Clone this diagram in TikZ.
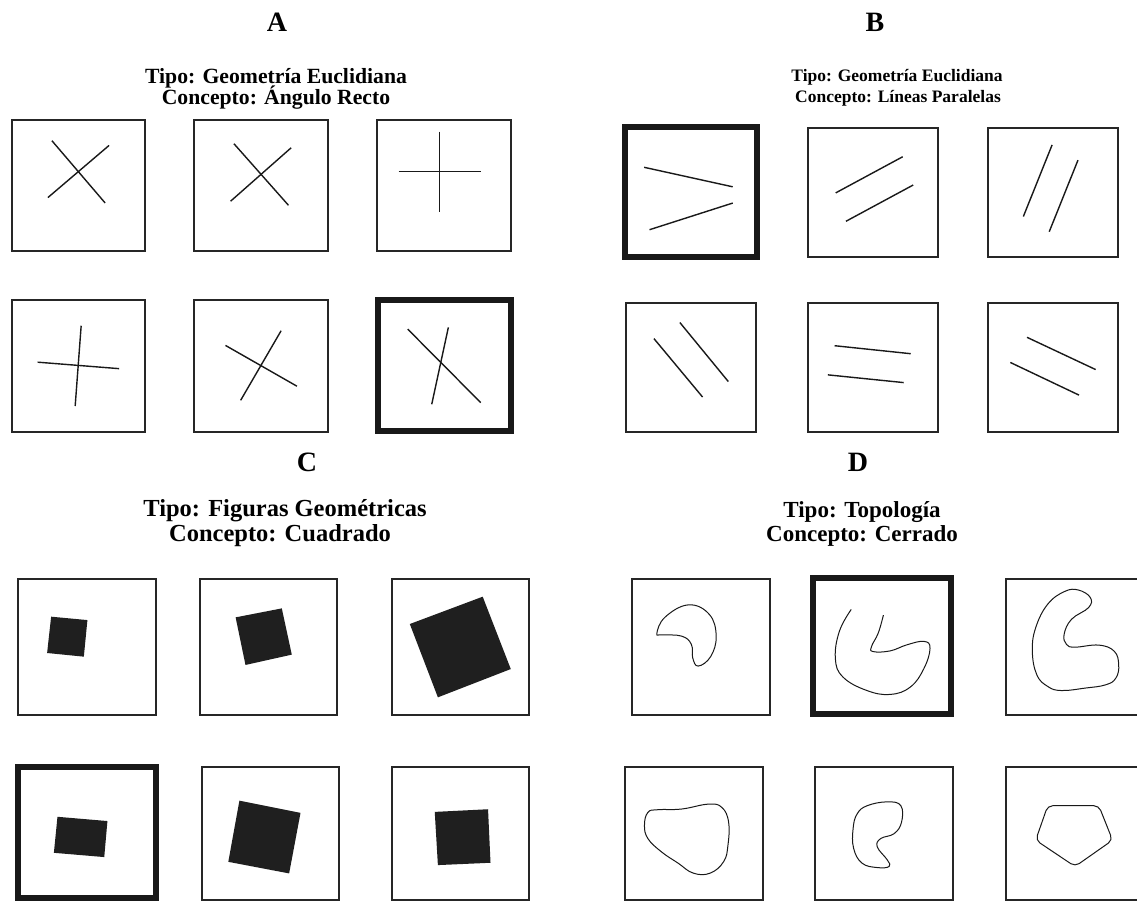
\documentclass[tikz,border=0pt]{standalone}
\usepackage{fontspec}
\setmainfont{Liberation Serif}
\begin{document}
\begin{tikzpicture}[x=1pt,y=-1pt,
  thinbox/.style={draw=black!85,line width=1.8pt},
  thickbox/.style={draw=black!90,line width=6pt},
  seg/.style={draw=black!90,line width=1.4pt},
  curve/.style={draw=black!90,line width=1pt},
  sq/.style={fill=black!88,draw=none},
  letter/.style={anchor=base,inner sep=0pt,font=\fontsize{28}{28}\selectfont\bfseries},
  titA/.style={anchor=base,inner sep=0pt,font=\fontsize{21.7}{22}\selectfont\bfseries},
  titB/.style={anchor=base,inner sep=0pt,font=\fontsize{17.5}{18}\selectfont\bfseries},
  titC/.style={anchor=base,inner sep=0pt,font=\fontsize{24.5}{25}\selectfont\bfseries},
  titD/.style={anchor=base,inner sep=0pt,font=\fontsize{23}{23}\selectfont\bfseries}]
\useasboundingbox (0,0) rectangle (1137,900);
\clip (0,0) rectangle (1137,900);
\fill[white] (0,0) rectangle (1137,900);

% ---------- titles ----------
\node[letter] (la) at (277,31) {A};
\node[titA] (ta1) at (276,83) {Tipo: Geometría Euclidiana};
\node[titA] (ta2) at (276,104) {Concepto: Ángulo Recto};
\node[letter] (lb) at (875,31) {B};
\node[titB] (tb1) at (897,81) {Tipo: Geometría Euclidiana};
\node[titB] (tb2) at (898,102) {Concepto: Líneas Paralelas};
\node[letter] (lc) at (307,471) {C};
\node[titC] (tc1) at (285,516) {Tipo: Figuras Geométricas};
\node[titC] (tc2) at (280,541) {Concepto: Cuadrado};
\node[letter] (ld) at (858,471) {D};
\node[titD] (td1) at (862,517) {Tipo: Topología};
\node[titD] (td2) at (862,541) {Concepto: Cerrado};

% ---------- A ----------
\begin{scope}[shift={(12,120)},x={(133pt,0pt)},y={(0pt,-131pt)}]
  \draw[thinbox] (0,0) rectangle (1,1);
  \draw[seg] (0.30,0.158) -- (0.70,0.633);
  \draw[seg] (0.27,0.592) -- (0.73,0.194);
\end{scope}
\begin{scope}[shift={(194,120)},x={(134pt,0pt)},y={(0pt,-131pt)}]
  \draw[thinbox] (0,0) rectangle (1,1);
  \draw[seg] (0.298,0.181) -- (0.705,0.651);
  \draw[seg] (0.273,0.62) -- (0.725,0.212);
\end{scope}
\begin{scope}[shift={(377,120)},x={(134pt,0pt)},y={(0pt,-131pt)}]
  \draw[thinbox] (0,0) rectangle (1,1);
  \draw[seg] (0.162,0.395) -- (0.776,0.395);
  \draw[seg] (0.468,0.089) -- (0.468,0.702);
\end{scope}
\begin{scope}[shift={(12,300)},x={(133pt,0pt)},y={(0pt,-132pt)}]
  \draw[thinbox] (0,0) rectangle (1,1);
  \draw[seg] (0.193,0.471) -- (0.805,0.52);
  \draw[seg] (0.52,0.195) -- (0.475,0.803);
\end{scope}
\begin{scope}[shift={(194,300)},x={(134pt,0pt)},y={(0pt,-132pt)}]
  \draw[thinbox] (0,0) rectangle (1,1);
  \draw[seg] (0.235,0.344) -- (0.768,0.653);
  \draw[seg] (0.65,0.233) -- (0.348,0.76);
\end{scope}
\begin{scope}[shift={(378,300)},x={(133pt,0pt)},y={(0pt,-131pt)}]
  \draw[thickbox] (0,0) rectangle (1,1);
  \draw[seg] (0.223,0.222) -- (0.772,0.783);
  \draw[seg] (0.529,0.209) -- (0.404,0.796);
\end{scope}

% ---------- B ----------
\begin{scope}[shift={(625,127)},x={(132pt,0pt)},y={(0pt,-130pt)}]
  \draw[thickbox] (0,0) rectangle (1,1);
  \draw[seg] (0.145,0.31) -- (0.816,0.46);
  \draw[seg] (0.186,0.79) -- (0.816,0.585);
\end{scope}
\begin{scope}[shift={(808,128)},x={(130pt,0pt)},y={(0pt,-129pt)}]
  \draw[thinbox] (0,0) rectangle (1,1);
  \draw[seg] (0.213,0.503) -- (0.728,0.223);
  \draw[seg] (0.292,0.723) -- (0.809,0.442);
\end{scope}
\begin{scope}[shift={(988,128)},x={(130pt,0pt)},y={(0pt,-129pt)}]
  \draw[thinbox] (0,0) rectangle (1,1);
  \draw[seg] (0.272,0.686) -- (0.493,0.131);
  \draw[seg] (0.471,0.804) -- (0.692,0.249);
\end{scope}
\begin{scope}[shift={(626,303)},x={(130pt,0pt)},y={(0pt,-129pt)}]
  \draw[thinbox] (0,0) rectangle (1,1);
  \draw[seg] (0.215,0.276) -- (0.589,0.729);
  \draw[seg] (0.414,0.151) -- (0.787,0.609);
\end{scope}
\begin{scope}[shift={(808,303)},x={(130pt,0pt)},y={(0pt,-129pt)}]
  \draw[thinbox] (0,0) rectangle (1,1);
  \draw[seg] (0.204,0.331) -- (0.790,0.393);
  \draw[seg] (0.153,0.557) -- (0.736,0.617);
\end{scope}
\begin{scope}[shift={(988,303)},x={(130pt,0pt)},y={(0pt,-129pt)}]
  \draw[thinbox] (0,0) rectangle (1,1);
  \draw[seg] (0.300,0.266) -- (0.828,0.516);
  \draw[seg] (0.172,0.461) -- (0.700,0.714);
\end{scope}

% ---------- C ----------
\begin{scope}[shift={(18,579)},x={(138pt,0pt)},y={(0pt,-136pt)}]
  \draw[thinbox] (0,0) rectangle (1,1);
  \fill[sq] (0.240,0.277) -- (0.503,0.302) -- (0.477,0.571) -- (0.211,0.544) -- cycle;
\end{scope}
\begin{scope}[shift={(200,579)},x={(137pt,0pt)},y={(0pt,-136pt)}]
  \draw[thinbox] (0,0) rectangle (1,1);
  \fill[sq] (0.260,0.282) -- (0.597,0.216) -- (0.670,0.556) -- (0.332,0.632) -- cycle;
\end{scope}
\begin{scope}[shift={(392,579)},x={(137pt,0pt)},y={(0pt,-136pt)}]
  \draw[thinbox] (0,0) rectangle (1,1);
  \fill[sq] (0.130,0.331) -- (0.662,0.130) -- (0.867,0.662) -- (0.335,0.870) -- cycle;
\end{scope}
\begin{scope}[shift={(18,767)},x={(138pt,0pt)},y={(0pt,-131pt)}]
  \draw[thickbox] (0,0) rectangle (1,1);
  \fill[sq] (0.286,0.38) -- (0.648,0.4125) -- (0.625,0.6875) -- (0.260,0.655) -- cycle;
\end{scope}
\begin{scope}[shift={(202,767)},x={(137pt,0pt)},y={(0pt,-133pt)}]
  \draw[thinbox] (0,0) rectangle (1,1);
  \fill[sq] (0.273,0.253) -- (0.719,0.345) -- (0.636,0.80) -- (0.192,0.713) -- cycle;
\end{scope}
\begin{scope}[shift={(392,767)},x={(137pt,0pt)},y={(0pt,-133pt)}]
  \draw[thinbox] (0,0) rectangle (1,1);
  \fill[sq] (0.312,0.3375) -- (0.701,0.3175) -- (0.719,0.72) -- (0.335,0.7375) -- cycle;
\end{scope}

% ---------- D ----------
\begin{scope}[shift={(632,579)},x={(138pt,0pt)},y={(0pt,-136pt)}]
  \draw[thinbox] (0,0) rectangle (1,1);
  \draw[curve] plot[smooth cycle,tension=0.7] coordinates {(0.18,0.40) (0.24,0.28) (0.41,0.19) (0.56,0.26) (0.61,0.42) (0.57,0.57) (0.48,0.64) (0.44,0.58) (0.43,0.48) (0.36,0.42) (0.22,0.41)};
\end{scope}
\begin{scope}[shift={(813,578)},x={(138pt,0pt)},y={(0pt,-136pt)}]
  \draw[thickbox] (0,0) rectangle (1,1);
  \draw[curve] plot[smooth,tension=0.7] coordinates {(0.277,0.231) (0.191,0.392) (0.162,0.591) (0.216,0.727) (0.387,0.826) (0.559,0.856) (0.706,0.801) (0.804,0.665) (0.848,0.516) (0.804,0.466) (0.681,0.491) (0.559,0.536) (0.436,0.541) (0.424,0.504) (0.473,0.404) (0.510,0.273)};
\end{scope}
\begin{scope}[shift={(1006,579)},x={(140pt,0pt)},y={(0pt,-136pt)}]
  \draw[thinbox] (0,0) rectangle (1,1);
  \draw[curve] plot[smooth cycle,tension=0.7] coordinates {(0.517,0.081) (0.602,0.136) (0.590,0.210) (0.468,0.296) (0.415,0.407) (0.432,0.481) (0.493,0.501) (0.663,0.486) (0.773,0.531) (0.805,0.630) (0.785,0.728) (0.712,0.778) (0.566,0.802) (0.395,0.820) (0.298,0.790) (0.220,0.704) (0.188,0.531) (0.212,0.358) (0.298,0.185) (0.420,0.091)};
\end{scope}
\begin{scope}[shift={(625,767)},x={(138pt,0pt)},y={(0pt,-133pt)}]
  \draw[thinbox] (0,0) rectangle (1,1);
  \draw[curve] plot[smooth cycle,tension=0.7] coordinates {(0.166,0.341) (0.239,0.321) (0.410,0.316) (0.605,0.279) (0.702,0.304) (0.751,0.415) (0.746,0.588) (0.715,0.711) (0.617,0.798) (0.495,0.798) (0.385,0.723) (0.263,0.637) (0.166,0.538) (0.141,0.439)};
\end{scope}
\begin{scope}[shift={(815,767)},x={(138pt,0pt)},y={(0pt,-133pt)}]
  \draw[thinbox] (0,0) rectangle (1,1);
  \draw[curve] plot[smooth cycle,tension=0.7] coordinates {(0.378,0.291) (0.524,0.262) (0.622,0.291) (0.627,0.415) (0.573,0.501) (0.476,0.538) (0.451,0.600) (0.524,0.699) (0.537,0.748) (0.451,0.756) (0.341,0.723) (0.280,0.612) (0.276,0.464) (0.305,0.353)};
\end{scope}
\begin{scope}[shift={(1006,767)},x={(140pt,0pt)},y={(0pt,-133pt)}]
  \draw[thinbox] (0,0) rectangle (1,1);
  \draw[curve,rounded corners=5pt] (0.298,0.291) -- (0.663,0.291) -- (0.761,0.550) -- (0.493,0.748) -- (0.212,0.550) -- cycle;
\end{scope}
\end{tikzpicture}
\end{document}
